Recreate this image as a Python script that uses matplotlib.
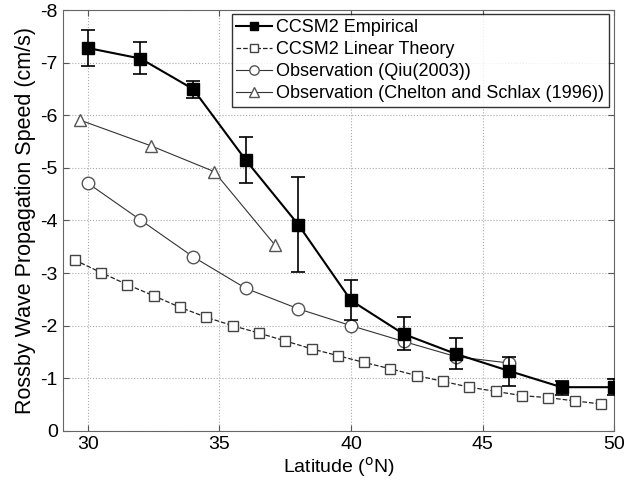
import numpy as np
import matplotlib.pyplot as plt

plt.rcParams['font.family'] = ['Liberation Sans', 'DejaVu Sans']
plt.rcParams['axes.unicode_minus'] = False

# CCSM2 empirical (с погрешностями)
emp_lat = [30, 32, 34, 36, 38, 40, 42, 44, 46, 48, 50]
emp_speed = [-7.28, -7.08, -6.50, -5.15, -3.92, -2.48, -1.84, -1.46, -1.14, -0.83, -0.83]
emp_err_top = [-7.62, -7.40, -6.66, -5.58, -4.82, -2.87, -2.16, -1.77, -1.41, -0.95, -0.98]
emp_err_bot = [-6.94, -6.79, -6.32, -4.72, -3.02, -2.11, -1.53, -1.18, -0.86, -0.68, -0.68]

# CCSM2 linear theory
lin_lat = [29.5, 30.5, 31.5, 32.5, 33.5, 34.5, 35.5, 36.5, 37.5, 38.5, 39.5,
           40.5, 41.5, 42.5, 43.5, 44.5, 45.5, 46.5, 47.5, 48.5, 49.5]
lin_speed = [-3.25, -3.01, -2.78, -2.57, -2.35, -2.16, -2.00, -1.86, -1.71, -1.56, -1.43,
             -1.30, -1.18, -1.05, -0.94, -0.83, -0.75, -0.67, -0.63, -0.57, -0.51]

# Observation (Qiu 2003)
qiu_lat = [30, 32, 34, 36, 38, 40, 42, 44, 46]
qiu_speed = [-4.71, -4.01, -3.31, -2.71, -2.32, -2.00, -1.70, -1.41, -1.29]

# Observation (Chelton and Schlax 1996)
cs_lat = [29.7, 32.4, 34.8, 37.1]
cs_speed = [-5.91, -5.42, -4.93, -3.54]

fig, ax = plt.subplots(figsize=(6.28, 4.83), dpi=100)
fig.subplots_adjust(left=0.1, right=0.978, bottom=0.108, top=0.979)

emp_speed_arr = np.array(emp_speed)
yerr = [emp_speed_arr - np.array(emp_err_top), np.array(emp_err_bot) - emp_speed_arr]
# погрешности рисуем отдельно, без линии
ax.errorbar(emp_lat, emp_speed, yerr=np.abs(yerr), fmt='none', ecolor='black',
            elinewidth=1.2, capsize=5, capthick=1.2, zorder=3)
ax.plot(emp_lat, emp_speed, '-s', color='black', lw=1.5, ms=8,
        mfc='black', mec='black', label='CCSM2 Empirical', zorder=4)
ax.plot(lin_lat, lin_speed, '--s', color='#222222', lw=0.9, ms=7,
        mfc='white', mec='#444444', label='CCSM2 Linear Theory', zorder=2)
ax.plot(qiu_lat, qiu_speed, '-o', color='#333333', lw=0.8, ms=9,
        mfc='white', mec='#555555', label='Observation (Qiu(2003))', zorder=2)
ax.plot(cs_lat, cs_speed, '-^', color='#333333', lw=0.8, ms=9,
        mfc='white', mec='#555555', label='Observation (Chelton and Schlax (1996))', zorder=2)

ax.set_xlim(29.05, 50)
ax.set_ylim(0, -8)
ax.set_xticks([30, 35, 40, 45, 50])
ax.set_yticks(np.arange(0, -9, -1))
ax.tick_params(direction='in', top=True, right=True, labelsize=14, length=4,
               color='#555555')
for sp in ax.spines.values():
    sp.set_color('#666666')
ax.grid(True, linestyle=':', color='#aaaaaa', linewidth=0.8)

ax.set_xlabel('Latitude ($^{\\mathrm{o}}$N)', fontsize=14, labelpad=2)
ax.set_ylabel('Rossby Wave Propagation Speed (cm/s)', fontsize=15.5, labelpad=3)

leg = ax.legend(loc='upper right', bbox_to_anchor=(0.99, 0.99), fontsize=13,
                frameon=True, fancybox=False, edgecolor='black',
                borderaxespad=0.0, handlelength=2.0, handletextpad=0.22,
                labelspacing=0.28, borderpad=0.25, markerscale=0.75)
leg.get_frame().set_linewidth(1.0)

plt.savefig('out.png', dpi=100)
